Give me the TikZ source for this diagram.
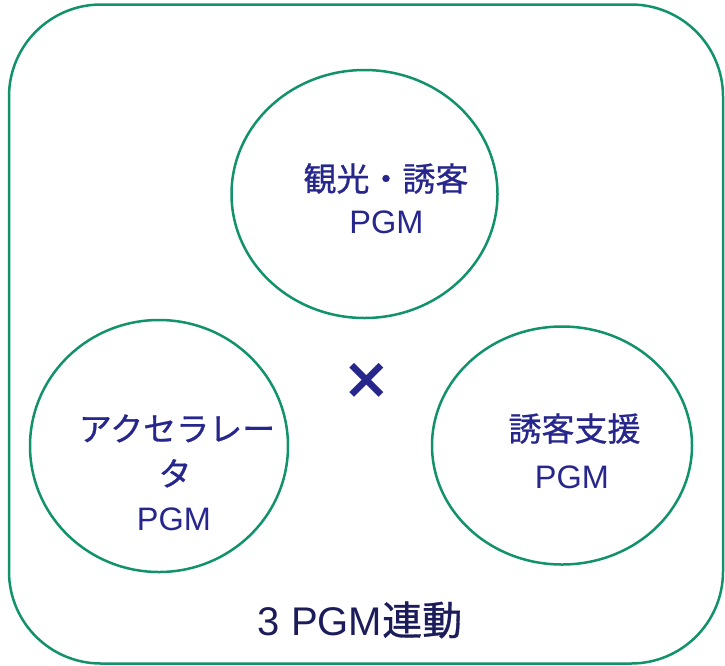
\documentclass[tikz,border=0pt]{standalone}
\usepackage{fontspec}
\setmainfont{Liberation Sans}
\newfontfamily\cjk[FakeBold=0.8]{Noto Sans CJK JP}
\newfontfamily\symf{DejaVu Sans}
\usetikzlibrary{shapes.geometric}
\definecolor{ringgreen}{RGB}{18,146,106}
\definecolor{txtblue}{RGB}{38,38,140}
\definecolor{txtdark}{RGB}{28,28,90}
\tikzset{
  ring/.style={draw=ringgreen, line width=2.5pt, ellipse, inner sep=0pt},
  lbl/.style={anchor=base, inner sep=0pt, text=txtblue, font=\fontsize{33}{40}\selectfont},
  lblsub/.style={anchor=base, inner sep=0pt, text=txtblue, font=\fontsize{32.5}{40}\selectfont}
}
\begin{document}
\begin{tikzpicture}[x=1pt, y=-1pt]
\useasboundingbox (0,0) rectangle (725,665);
\node[draw=ringgreen, line width=2.5pt, rounded corners=92pt, minimum width=714pt, minimum height=659pt, inner sep=0pt] (frame) at (366,334) {};
\node[ring, minimum width=266pt, minimum height=248pt] (top) at (364.5,194) {};
\node[ring, minimum width=258pt, minimum height=252pt] (left) at (159,446) {};
\node[ring, minimum width=260pt, minimum height=238pt] (right) at (562,445.5) {};
\node[lbl] (t1) at (386,191) {\cjk 観光・誘客};
\node[lblsub] (t2) at (386.5,233.5) {PGM};
\node[lbl] (l1) at (177,441) {\cjk アクセラレー};
\node[lbl] (l2) at (175,486) {\cjk タ};
\node[lblsub] (l3) at (174,530) {PGM};
\node[lbl] (r1) at (574.5,441) {\cjk 誘客支援};
\node[lblsub] (r2) at (572,488) {PGM};
\node[anchor=center, inner sep=0pt, text=txtblue, font=\symf\bfseries\fontsize{58}{60}\selectfont] (times) at (366.5,381) {×};
\node[anchor=base, inner sep=0pt, text=txtdark, font=\fontsize{40}{48}\selectfont] (bottom) at (360,635) {3 PGM{\cjk 連動}};
\end{tikzpicture}
\end{document}
